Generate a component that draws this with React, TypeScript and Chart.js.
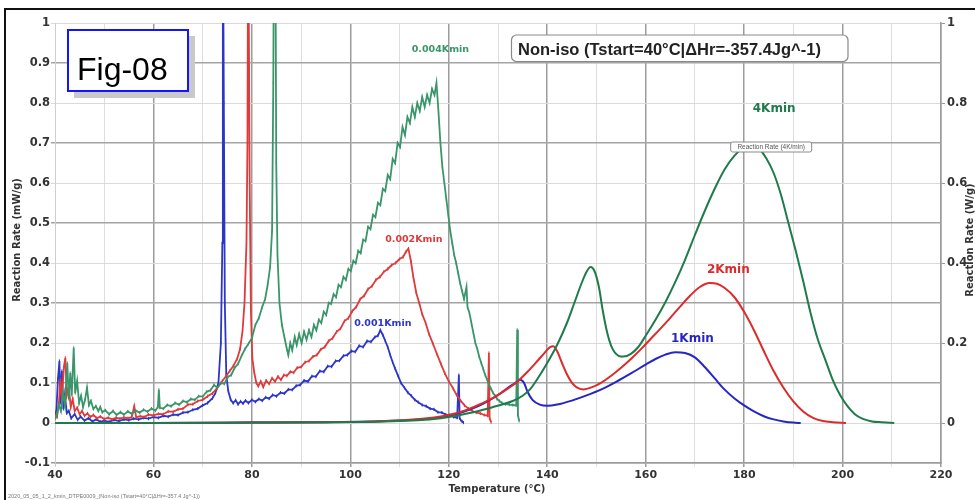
import React, { useEffect, useRef } from "react";
import { Chart, registerables } from "chart.js";

Chart.register(...registerables);

// ---------- axes ----------
const xTicks = [40, 50, 60, 70, 80, 90, 100, 110, 120, 130, 140, 150, 160, 170, 180, 190, 200, 210, 220];
const leftTicks = [-0.1, 0, 0.1, 0.2, 0.3, 0.4, 0.5, 0.6, 0.7, 0.8, 0.9, 1];
const rightTicks = [0, 0.2, 0.4, 0.6, 0.8, 1];

// ---------- 0.001 K/min (mW/g) [T, rate] ----------
const slow001: [number, number][] = [
  [40, 0.012], [40.3, 0.035], [40.6, 0.11], [40.9, 0.155], [41.1, 0.05], [41.4, 0.13], [41.7, 0.035], [42, 0.07],
  [42.4, 0.025], [42.8, 0.03], [43.3, 0.012], [44, 0.022], [44.6, 0.008], [45.2, 0.016], [46, 0.006], [46.8, 0.012],
  [47.6, 0.004], [48.4, 0.009], [49.2, 0.003], [50, 0.006], [51, 0.003], [52, 0.008], [53, 0.005], [54, 0.009],
  [55, 0.007], [56, 0.011], [57, 0.009], [58, 0.013], [59, 0.011], [60, 0.015], [61, 0.013], [62, 0.018],
  [63, 0.016], [64, 0.021], [65, 0.02], [66, 0.026], [67, 0.027], [68, 0.033], [69, 0.036], [70, 0.044],
  [71, 0.05], [72, 0.062], [72.6, 0.075], [73.2, 0.1], [73.7, 0.2], [74, 0.45], [74.1, 1.3], [74.3, 0.8],
  [74.5, 0.3], [74.8, 0.12], [75.2, 0.08], [75.7, 0.058], [76.2, 0.05], [76.7, 0.057], [77.2, 0.047], [77.7, 0.054],
  [78.2, 0.049], [78.7, 0.056], [79.3, 0.05], [80, 0.058], [80.7, 0.053], [81.4, 0.06], [82.1, 0.056], [82.8, 0.064],
  [83.5, 0.061], [84.2, 0.07], [85, 0.067], [85.8, 0.076], [86.6, 0.074], [87.4, 0.084], [88.2, 0.083], [89, 0.093],
  [89.8, 0.095], [90.6, 0.106], [91.4, 0.104], [92.2, 0.117], [93, 0.116], [93.8, 0.13], [94.6, 0.128], [95.4, 0.142],
  [96.2, 0.141], [97, 0.155], [97.8, 0.156], [98.6, 0.168], [99.4, 0.17], [100.2, 0.18], [101, 0.178], [101.8, 0.193],
  [102.6, 0.19], [103.4, 0.205], [104.2, 0.203], [105, 0.215], [105.6, 0.218], [106.1, 0.232], [106.6, 0.22], [107.1, 0.205],
  [107.6, 0.19], [108.1, 0.17], [108.6, 0.152], [109.1, 0.136], [109.7, 0.118], [110.3, 0.1], [111, 0.088], [111.7, 0.076],
  [112.4, 0.068], [113.1, 0.058], [113.8, 0.052], [114.6, 0.045], [115.4, 0.042], [116.2, 0.036], [117, 0.034], [117.8, 0.027],
  [118.6, 0.026], [119.4, 0.021], [120.2, 0.02], [121, 0.015], [121.7, 0.013], [122.05, 0.12], [122.2, 0.012], [122.4, 0.008],
  [122.7, 0.004], [123, 0.001],
];

// ---------- 0.002 K/min (mW/g) ----------
const slow002: [number, number][] = [
  [40, 0.02], [40.4, 0.015], [40.8, 0.05], [41.1, 0.11], [41.4, 0.06], [41.8, 0.14], [42.1, 0.163], [42.4, 0.07],
  [42.8, 0.09], [43.2, 0.04], [43.6, 0.06], [44, 0.03], [44.5, 0.038], [45, 0.022], [45.5, 0.03], [46, 0.018],
  [46.6, 0.024], [47.2, 0.015], [47.8, 0.02], [48.5, 0.012], [49.2, 0.016], [50, 0.01], [50.8, 0.013], [51.6, 0.009],
  [52.4, 0.013], [53.2, 0.011], [54, 0.014], [54.8, 0.012], [55.6, 0.015], [56.1, 0.042], [56.5, 0.014], [57.3, 0.017],
  [58.1, 0.015], [59, 0.021], [60, 0.019], [61, 0.023], [62, 0.022], [63, 0.029], [64, 0.028], [65, 0.034],
  [66, 0.036], [67, 0.046], [68, 0.047], [69, 0.055], [70, 0.058], [71, 0.067], [72, 0.074], [73, 0.088],
  [74, 0.105], [74.8, 0.118], [75.5, 0.13], [76.2, 0.142], [77, 0.16], [77.6, 0.185], [78.1, 0.23], [78.5, 0.3],
  [78.9, 0.45], [79.1, 0.7], [79.25, 1.3], [79.4, 1.3], [79.55, 0.6], [79.8, 0.28], [80.1, 0.16], [80.5, 0.125],
  [80.9, 0.1], [81.3, 0.092], [81.8, 0.104], [82.3, 0.09], [82.9, 0.106], [83.5, 0.098], [84.1, 0.112], [84.7, 0.104],
  [85.3, 0.116], [85.9, 0.108], [86.5, 0.12], [87.1, 0.118], [87.8, 0.128], [88.5, 0.126], [89.2, 0.138], [90, 0.14],
  [90.8, 0.152], [91.6, 0.155], [92.4, 0.166], [93.2, 0.17], [94, 0.184], [94.8, 0.19], [95.6, 0.205], [96.4, 0.212],
  [97.2, 0.228], [98, 0.236], [98.8, 0.255], [99.6, 0.262], [100.4, 0.28], [101.2, 0.29], [102, 0.31], [102.8, 0.318],
  [103.6, 0.335], [104.4, 0.342], [105.2, 0.358], [106, 0.365], [106.8, 0.378], [107.6, 0.385], [108.4, 0.395], [109.2, 0.4],
  [110, 0.41], [110.7, 0.415], [111.3, 0.428], [111.8, 0.436], [112.3, 0.405], [112.8, 0.365], [113.4, 0.325], [114, 0.3],
  [114.6, 0.272], [115.3, 0.25], [116, 0.222], [116.8, 0.198], [117.6, 0.172], [118.4, 0.148], [119.2, 0.124], [120, 0.104],
  [120.8, 0.088], [121.6, 0.07], [122.4, 0.056], [123.2, 0.044], [124, 0.036], [124.8, 0.03], [125.6, 0.026], [126.4, 0.024],
  [127.2, 0.02], [127.9, 0.018], [128.15, 0.175], [128.3, 0.012], [128.6, 0.002],
];

// ---------- 0.004 K/min (mW/g) ----------
const slow004: [number, number][] = [
  [40, 0.01], [40.4, 0.022], [40.8, 0.045], [41.2, 0.03], [41.6, 0.075], [42, 0.045], [42.5, 0.15], [42.8, 0.06],
  [43.1, 0.125], [43.4, 0.07], [43.8, 0.188], [44.1, 0.075], [44.5, 0.105], [44.9, 0.05], [45.3, 0.068], [45.7, 0.04],
  [46.1, 0.058], [46.5, 0.088], [46.9, 0.045], [47.3, 0.055], [47.8, 0.035], [48.3, 0.042], [48.8, 0.03], [49.2, 0.04],
  [49.6, 0.027], [50.2, 0.032], [51, 0.022], [51.8, 0.03], [52.5, 0.02], [53.3, 0.027], [54, 0.021], [54.8, 0.029],
  [55.6, 0.023], [56.4, 0.031], [57.2, 0.026], [58, 0.033], [58.8, 0.028], [59.6, 0.036], [60.4, 0.031], [60.9, 0.04],
  [61.1, 0.083], [61.3, 0.038], [62, 0.036], [62.8, 0.045], [63.6, 0.042], [64.4, 0.05], [65.2, 0.046], [66, 0.055],
  [66.8, 0.052], [67.6, 0.06], [68.4, 0.058], [69.2, 0.067], [70, 0.066], [70.8, 0.078], [71.6, 0.082], [72.3, 0.095],
  [73, 0.088], [73.7, 0.1], [74.4, 0.098], [75.1, 0.115], [75.8, 0.12], [76.5, 0.138], [77.2, 0.148], [77.9, 0.168],
  [78.6, 0.185], [79.3, 0.198], [80, 0.212], [80.7, 0.245], [81.4, 0.262], [82.1, 0.29], [82.7, 0.31], [83.2, 0.345],
  [83.7, 0.39], [84.1, 0.48], [84.35, 0.85], [84.5, 1.3], [84.75, 1.3], [84.95, 0.65], [85.2, 0.42], [85.6, 0.3],
  [86.1, 0.245], [86.6, 0.215], [87.1, 0.185], [87.4, 0.17], [87.8, 0.2], [88.2, 0.182], [88.7, 0.215], [89.1, 0.195],
  [89.6, 0.222], [90.1, 0.2], [90.6, 0.228], [91.1, 0.208], [91.6, 0.232], [92.1, 0.215], [92.6, 0.245], [93.1, 0.232],
  [93.6, 0.258], [94.1, 0.25], [94.6, 0.278], [95.1, 0.27], [95.6, 0.3], [96.1, 0.298], [96.6, 0.322], [97.1, 0.315],
  [97.6, 0.345], [98.1, 0.34], [98.6, 0.365], [99.1, 0.358], [99.6, 0.385], [100.1, 0.38], [100.6, 0.405], [101.1, 0.4],
  [101.6, 0.43], [102.1, 0.425], [102.6, 0.458], [103.1, 0.455], [103.6, 0.49], [104.1, 0.485], [104.6, 0.52], [105.1, 0.515],
  [105.6, 0.55], [106.1, 0.545], [106.6, 0.585], [107.1, 0.58], [107.6, 0.62], [108.1, 0.61], [108.6, 0.66], [109.1, 0.65],
  [109.6, 0.7], [110.1, 0.69], [110.6, 0.74], [111.1, 0.72], [111.6, 0.765], [112.1, 0.75], [112.6, 0.79], [113.1, 0.765],
  [113.6, 0.8], [114.1, 0.78], [114.6, 0.815], [115.1, 0.79], [115.6, 0.82], [116.1, 0.8], [116.6, 0.835], [117.1, 0.82],
  [117.5, 0.85], [117.9, 0.78], [118.3, 0.7], [118.7, 0.64], [119.1, 0.6], [119.5, 0.56], [119.9, 0.52], [120.3, 0.48],
  [120.7, 0.45], [121.1, 0.42], [121.5, 0.4], [121.9, 0.375], [122.3, 0.35], [122.7, 0.33], [123.1, 0.31], [123.6, 0.34],
  [123.8, 0.29], [124.2, 0.275], [124.6, 0.25], [125, 0.225], [125.4, 0.2], [125.8, 0.185], [126.2, 0.165], [126.6, 0.15],
  [127, 0.135], [127.4, 0.12], [127.8, 0.108], [128.2, 0.095], [128.6, 0.085], [129, 0.075], [129.4, 0.068], [129.8, 0.06],
  [130.3, 0.055], [130.8, 0.05], [131.5, 0.047], [132.3, 0.046], [133, 0.045], [133.7, 0.044], [133.9, 0.233], [134.05, 0.02],
  [134.3, 0.005],
];

// ---------- 1 K/min (W/g) ----------
const fast1: [number, number][] = [
  [40, 0], [60, 0], [80, 0.001], [95, 0.002], [105, 0.004], [112, 0.007], [117, 0.012], [120, 0.018],
  [123, 0.028], [126, 0.042], [128, 0.055], [130, 0.07], [132, 0.088], [133.5, 0.1], [134.5, 0.108], [135.3, 0.1],
  [136, 0.078], [137, 0.058], [138.5, 0.046], [140, 0.043], [142, 0.046], [145, 0.056], [148, 0.069], [151, 0.084],
  [154, 0.103], [157, 0.124], [160, 0.146], [162, 0.16], [164, 0.171], [166, 0.177], [168, 0.175], [170, 0.164],
  [172, 0.14], [174, 0.112], [176, 0.084], [178, 0.062], [180, 0.044], [182, 0.029], [184, 0.017], [186, 0.009],
  [188, 0.004], [190, 0.001], [191.5, 0],
];

// ---------- 2 K/min (W/g) ----------
const fast2: [number, number][] = [
  [40, 0], [60, 0], [80, 0.001], [95, 0.002], [105, 0.004], [112, 0.008], [117, 0.014], [120, 0.02],
  [123, 0.03], [126, 0.045], [129, 0.063], [132, 0.086], [134, 0.104], [136, 0.128], [138, 0.155], [139.5, 0.176],
  [140.5, 0.189], [141.2, 0.192], [142, 0.18], [143, 0.15], [144, 0.122], [145, 0.101], [146, 0.089], [147.3, 0.084],
  [149, 0.089], [151, 0.101], [153, 0.118], [155, 0.138], [157, 0.16], [159, 0.184], [161, 0.21], [163, 0.236],
  [165, 0.263], [167, 0.291], [169, 0.318], [171, 0.34], [173, 0.35], [174.5, 0.348], [176, 0.338], [178, 0.315],
  [180, 0.278], [182, 0.232], [184, 0.18], [186, 0.13], [188, 0.088], [190, 0.054], [192, 0.029], [194, 0.013],
  [196, 0.005], [198, 0.002], [200.7, 0],
];

// ---------- 4 K/min (W/g) ----------
const fast4: [number, number][] = [
  [40, 0], [60, 0], [80, 0.001], [95, 0.002], [105, 0.003], [112, 0.006], [117, 0.01], [120, 0.015],
  [123, 0.022], [126, 0.03], [129, 0.04], [131, 0.047], [133, 0.055], [135, 0.068], [136.5, 0.084], [138, 0.11],
  [140, 0.15], [142, 0.195], [144, 0.25], [145.5, 0.3], [147, 0.35], [148, 0.378], [148.8, 0.39], [149.6, 0.38],
  [150.5, 0.34], [151.3, 0.28], [152.2, 0.225], [153.2, 0.187], [154.5, 0.168], [155.5, 0.166], [157, 0.173], [158.5, 0.19],
  [160, 0.218], [162, 0.258], [164, 0.302], [166, 0.352], [168, 0.408], [170, 0.47], [172, 0.53], [174, 0.585],
  [176, 0.633], [178, 0.668], [180, 0.69], [181.5, 0.697], [183, 0.686], [184.5, 0.662], [186, 0.625], [187.5, 0.57],
  [189, 0.5], [190.5, 0.43], [192, 0.355], [193.5, 0.275], [195, 0.208], [196.5, 0.158], [198, 0.108], [199.5, 0.07],
  [201, 0.042], [202.5, 0.022], [204, 0.011], [206, 0.004], [208, 0.002], [210.5, 0],
];

// ---------- curve labels (anchored in data units: T, rate) ----------
const curveLabels: { text: string; t: number; v: number; key: string }[] = [
  { text: "0.004Kmin", t: 118.3, v: 0.933, key: "g" },
  { text: "0.002Kmin", t: 112.9, v: 0.458, key: "r" },
  { text: "0.001Kmin", t: 106.6, v: 0.248, key: "b" },
  { text: "4Kmin", t: 186.1, v: 0.786, key: "G" },
  { text: "2Kmin", t: 176.8, v: 0.383, key: "R" },
  { text: "1Kmin", t: 169.5, v: 0.21, key: "B" },
];
const peakTag = { text: "Reaction Rate (4K/min)", t: 185.5, v: 0.69 };

const COLORS: Record<string, string> = {
  g: "#3a966a",
  r: "#e03a3a",
  b: "#2c36c8",
  G: "#1f7a4c",
  R: "#dd2a2a",
  B: "#2626c4",
};

const toXY = (arr: [number, number][]) => arr.map(([x, y]) => ({ x, y }));

const decorPlugin = {
  id: "decor",
  afterDraw(chart: any) {
    const { ctx, scales } = chart;
    const xs = scales.x;
    const ys = scales.y;
    ctx.save();

    // outer frame
    ctx.strokeStyle = "#111";
    ctx.lineWidth = 2;
    ctx.beginPath();
    ctx.moveTo(5, 500);
    ctx.lineTo(5, 9);
    ctx.lineTo(975, 9);
    ctx.stroke();

    // curve labels
    ctx.textAlign = "center";
    ctx.textBaseline = "middle";
    curveLabels.forEach((l) => {
      const big = l.key === l.key.toUpperCase();
      ctx.font = `bold ${big ? 12 : 9.5}px "DejaVu Sans"`;
      ctx.fillStyle = COLORS[l.key];
      ctx.fillText(l.text, xs.getPixelForValue(l.t), ys.getPixelForValue(l.v));
    });

    // peak tag box
    {
      const cx = xs.getPixelForValue(peakTag.t);
      const cy = ys.getPixelForValue(peakTag.v);
      const w = 81, h = 10;
      ctx.fillStyle = "#fff";
      ctx.strokeStyle = "#8a8a8a";
      ctx.lineWidth = 1;
      ctx.beginPath();
      ctx.roundRect(cx - w / 2, cy - h / 2, w, h, 2);
      ctx.fill();
      ctx.stroke();
      ctx.font = '6.5px "Liberation Sans"';
      ctx.fillStyle = "#555";
      ctx.fillText(peakTag.text, cx, cy + 0.5);
    }

    // axis titles
    ctx.fillStyle = "#333";
    ctx.font = 'bold 10px "DejaVu Sans"';
    ctx.fillText("Temperature (°C)", 497, 489);
    ctx.save();
    ctx.translate(17.5, 240);
    ctx.rotate(-Math.PI / 2);
    ctx.fillText("Reaction Rate (mW/g)", 0, 0);
    ctx.restore();
    ctx.save();
    ctx.translate(970, 240);
    ctx.rotate(-Math.PI / 2);
    ctx.fillText("Reaction Rate (W/g)", 0, 0);
    ctx.restore();

    // Fig-08 box
    ctx.fillStyle = "#c9c9c9";
    ctx.fillRect(74, 36, 121, 62);
    ctx.fillStyle = "#fff";
    ctx.fillRect(68, 30, 120, 61);
    ctx.strokeStyle = "#1414ff";
    ctx.lineWidth = 2;
    ctx.strokeRect(68, 30, 120, 61);
    ctx.fillStyle = "#000";
    ctx.textAlign = "left";
    ctx.textBaseline = "alphabetic";
    ctx.font = '32px "Liberation Sans"';
    ctx.fillText("Fig-08", 77, 80);

    // Non-iso box
    ctx.fillStyle = "#fff";
    ctx.strokeStyle = "#8a8a8a";
    ctx.lineWidth = 1.2;
    ctx.beginPath();
    ctx.roundRect(511.5, 35, 336.5, 26.5, 5);
    ctx.fill();
    ctx.stroke();
    ctx.fillStyle = "#222";
    ctx.font = 'bold 16.5px "Liberation Sans"';
    ctx.fillText("Non-iso (Tstart=40°C|ΔHr=-357.4Jg^-1)", 518, 55);

    // footer
    ctx.fillStyle = "#777";
    ctx.font = '5.5px "Liberation Sans"';
    ctx.fillText("2020_05_05_1_2_kmin_DTPE0009_(Non-iso (Tstart=40°C|ΔHr=-357.4 Jg^-1))", 8, 498);

    ctx.restore();
  },
};

export default function App() {
  const ref = useRef<HTMLCanvasElement>(null);

  useEffect(() => {
    const canvas = ref.current;
    if (!canvas) return;

    const tickFontX = { family: '"DejaVu Sans"', weight: "bold" as const, size: 11 };
    const tickFontY = { family: '"DejaVu Sans"', weight: "bold" as const, size: 11.5 };
    const fmt = (v: any) => String(parseFloat(Number(v).toFixed(1)));

    const noisy = {
      borderWidth: 1.8,
      tension: 0,
      pointRadius: 1.6,
      pointStyle: "line",
      pointRotation: 90,
      pointBorderWidth: 1,
    };
    const smooth = {
      borderWidth: 2,
      tension: 0.4,
      cubicInterpolationMode: "monotone",
      pointRadius: 0,
    };

    const chart = new Chart(canvas, {
      type: "line",
      data: {
        datasets: [
          { label: "4Kmin", data: toXY(fast4), yAxisID: "y2", borderColor: COLORS.G, ...smooth, order: 1 },
          { label: "2Kmin", data: toXY(fast2), yAxisID: "y2", borderColor: COLORS.R, ...smooth, order: 2 },
          { label: "1Kmin", data: toXY(fast1), yAxisID: "y2", borderColor: COLORS.B, ...smooth, order: 3 },
          { label: "0.004Kmin", data: toXY(slow004), yAxisID: "y", borderColor: COLORS.g, pointBorderColor: COLORS.g, ...noisy, order: 4 },
          { label: "0.002Kmin", data: toXY(slow002), yAxisID: "y", borderColor: COLORS.r, pointBorderColor: COLORS.r, ...noisy, order: 5 },
          { label: "0.001Kmin", data: toXY(slow001), yAxisID: "y", borderColor: COLORS.b, pointBorderColor: COLORS.b, ...noisy, order: 6 },
        ] as any,
      },
      options: {
        animation: false,
        responsive: false,
        events: [],
        layout: { padding: { top: 23, left: 0, right: 0, bottom: 0 } },
        plugins: { legend: { display: false }, tooltip: { enabled: false } },
        scales: {
          x: {
            type: "linear",
            min: 40,
            max: 220,
            afterBuildTicks: (s: any) => {
              s.ticks = xTicks.map((v) => ({ value: v }));
            },
            afterFit: (s: any) => {
              s.height = 37;
            },
            ticks: {
              autoSkip: false,
              maxRotation: 0,
              padding: 2,
              color: "#333",
              font: tickFontX,
              callback: (v: any) => (Number(v) % 20 === 0 ? String(v) : ""),
            },
            grid: {
              color: (c: any) => {
                const v = c.tick ? c.tick.value : 0;
                if (v === 40) return "#cfcfcf";
                return v % 20 === 0 ? "#9c9c9c" : "#dedede";
              },
              lineWidth: (c: any) => {
                const v = c.tick ? c.tick.value : 0;
                return v % 20 === 0 && v !== 40 ? 1.5 : 1;
              },
              drawTicks: true,
              tickLength: 4,
            },
            border: { display: true, color: "#9c9c9c", width: 1.5 },
          },
          y: {
            type: "linear",
            position: "left",
            min: -0.1,
            max: 1,
            afterBuildTicks: (s: any) => {
              s.ticks = leftTicks.map((v) => ({ value: v }));
            },
            afterFit: (s: any) => {
              s.width = 55;
            },
            ticks: { autoSkip: false, padding: 1, color: "#333", font: tickFontY, callback: fmt },
            grid: {
              color: (c: any) => {
                const v = c.tick ? c.tick.value : 0;
                const n = Math.round(v * 10);
                if (n === -1) return "#9c9c9c";
                return Math.abs(n) % 2 === 1 ? "#a4a4a4" : "#dadada";
              },
              lineWidth: (c: any) => {
                const v = c.tick ? c.tick.value : 0;
                const n = Math.round(v * 10);
                return Math.abs(n) % 2 === 1 ? 1.5 : 1;
              },
              drawTicks: true,
              tickLength: 4,
            },
            border: { display: true, color: "#cfcfcf", width: 1 },
          },
          y2: {
            type: "linear",
            position: "right",
            min: -0.1,
            max: 1,
            afterBuildTicks: (s: any) => {
              s.ticks = rightTicks.map((v) => ({ value: v }));
            },
            afterFit: (s: any) => {
              s.width = 34;
            },
            ticks: { autoSkip: false, padding: 2, color: "#333", font: tickFontY, callback: fmt },
            grid: { drawOnChartArea: false, drawTicks: true, tickLength: 4, color: "#9c9c9c" },
            border: { display: true, color: "#9c9c9c", width: 1.5 },
          },
        },
      } as any,
      plugins: [decorPlugin],
    });

    return () => chart.destroy();
  }, []);

  return (
    <div style={{ position: "fixed", left: 0, top: 0, width: 975, height: 500, background: "#fff" }}>
      <canvas ref={ref} width={975} height={500} style={{ display: "block", width: 975, height: 500 }} />
    </div>
  );
}
